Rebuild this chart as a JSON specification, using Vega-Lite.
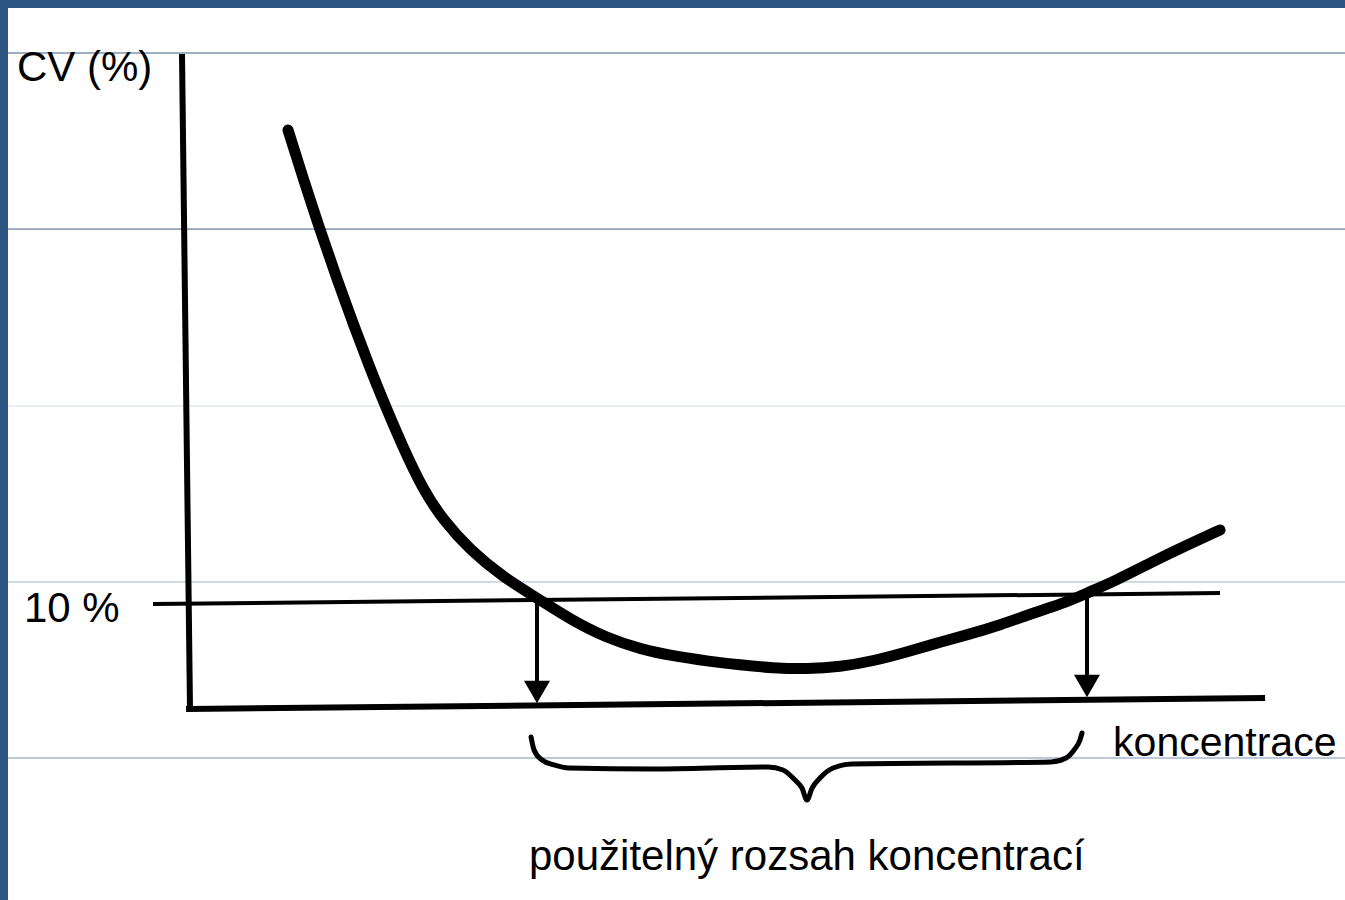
{
  "$schema": "https://vega.github.io/schema/vega-lite/v6.json",
  "width": 1337,
  "height": 892,
  "autosize": {"type": "none"},
  "padding": {"left": 8, "top": 8, "right": 0, "bottom": 0},
  "background": "#2C5581",
  "config": {"view": {"stroke": null, "fill": "#ffffff"}},
  "datasets": {
    "grid": [
      {"v": 63.61, "tone": "dark"},
      {"v": 46.44, "tone": "dark"},
      {"v": 29.18, "tone": "pale"},
      {"v": 12.02, "tone": "light"},
      {"v": -5.15, "tone": "mid"}
    ],
    "curve": [
      {"c": 9.97, "v": 56.10}, {"c": 11.36, "v": 51.42}, {"c": 12.94, "v": 46.35},
      {"c": 14.51, "v": 41.57}, {"c": 16.00, "v": 37.23}, {"c": 17.57, "v": 32.89},
      {"c": 18.78, "v": 29.72}, {"c": 20.64, "v": 25.13}, {"c": 22.49, "v": 21.04},
      {"c": 24.35, "v": 18.06}, {"c": 26.85, "v": 15.14}, {"c": 29.91, "v": 12.50},
      {"c": 33.06, "v": 10.46}, {"c": 36.40, "v": 8.21}, {"c": 39.56, "v": 6.55},
      {"c": 42.62, "v": 5.48}, {"c": 45.68, "v": 4.80}, {"c": 48.83, "v": 4.31},
      {"c": 51.89, "v": 3.92}, {"c": 54.95, "v": 3.63}, {"c": 58.10, "v": 3.53},
      {"c": 61.17, "v": 3.73}, {"c": 64.23, "v": 4.31}, {"c": 67.38, "v": 5.19},
      {"c": 70.16, "v": 6.07}, {"c": 72.94, "v": 6.85}, {"c": 76.01, "v": 7.82},
      {"c": 79.07, "v": 8.99}, {"c": 82.22, "v": 10.07}, {"c": 84.07, "v": 10.94},
      {"c": 86.86, "v": 12.21}, {"c": 89.92, "v": 13.87}, {"c": 92.98, "v": 15.43},
      {"c": 96.41, "v": 17.09}
    ],
    "brace": [
      {"c": 32.51, "v": -3.10}, {"c": 32.79, "v": -4.37}, {"c": 33.53, "v": -5.35},
      {"c": 34.64, "v": -5.83}, {"c": 36.03, "v": -6.13}, {"c": 43.82, "v": -6.22},
      {"c": 54.49, "v": -6.03}, {"c": 55.88, "v": -6.32}, {"c": 56.99, "v": -7.30},
      {"c": 57.64, "v": -8.08}, {"c": 58.10, "v": -9.25}, {"c": 58.57, "v": -8.08},
      {"c": 59.31, "v": -7.10}, {"c": 60.52, "v": -6.13}, {"c": 62.28, "v": -5.74},
      {"c": 80.74, "v": -5.54}, {"c": 82.13, "v": -5.15}, {"c": 82.87, "v": -4.37},
      {"c": 83.42, "v": -3.39}, {"c": 83.61, "v": -2.71}
    ],
    "segments": [
      {"part": "axis", "c": 0.14, "v": 63.22, "c2": 0.88, "v2": -0.37},
      {"part": "axis", "c": 0.79, "v": -0.37, "c2": 100.31, "v2": 0.70},
      {"part": "limit", "c": -2.55, "v": 9.87, "c2": 96.41, "v2": 10.94},
      {"part": "arrow", "c": 33.06, "v": 10.26, "c2": 33.06, "v2": 2.07},
      {"part": "arrow", "c": 84.07, "v": 10.85, "c2": 84.07, "v2": 2.65}
    ],
    "heads": [
      {"c": 33.06, "v": 1.29},
      {"c": 84.07, "v": 1.87}
    ],
    "labels": [
      {"role": "ytitle", "c": -15.17, "v": 60.88, "text": "CV (%)"},
      {"role": "ytitle", "c": -14.52, "v": 8.11, "text": "10 %"},
      {"role": "xtitle", "c": 86.49, "v": -4.96, "text": "koncentrace"},
      {"role": "range", "c": 32.32, "v": -16.07, "text": "použitelný rozsah koncentrací"}
    ]
  },
  "layer": [
    {
      "data": {"name": "grid"},
      "mark": {"type": "rule", "strokeWidth": 1},
      "encoding": {
        "y": {"field": "v", "type": "quantitative", "scale": {"domain": [-19, 68], "nice": false, "zero": false}, "axis": null},
        "color": {"field": "tone", "type": "nominal", "scale": {"domain": ["dark", "pale", "light", "mid"], "range": ["#3F5E85", "#CEDBE8", "#A0B6CE", "#7893B5"]}, "legend": null}
      }
    },
    {
      "data": {"name": "segments"},
      "transform": [{"filter": "datum.part === 'axis'"}],
      "mark": {"type": "rule", "strokeWidth": 6, "color": "#000000", "strokeCap": "square"},
      "encoding": {
        "x": {"field": "c", "type": "quantitative", "scale": {"domain": [-16, 108], "nice": false, "zero": false}, "axis": null},
        "y": {"field": "v", "type": "quantitative", "scale": {"domain": [-19, 68], "nice": false, "zero": false}, "axis": null},
        "x2": {"field": "c2"},
        "y2": {"field": "v2"}
      }
    },
    {
      "data": {"name": "segments"},
      "transform": [{"filter": "datum.part === 'limit'"}],
      "mark": {"type": "rule", "strokeWidth": 4, "color": "#000000"},
      "encoding": {
        "x": {"field": "c", "type": "quantitative", "scale": {"domain": [-16, 108], "nice": false, "zero": false}, "axis": null},
        "y": {"field": "v", "type": "quantitative", "scale": {"domain": [-19, 68], "nice": false, "zero": false}, "axis": null},
        "x2": {"field": "c2"},
        "y2": {"field": "v2"}
      }
    },
    {
      "data": {"name": "segments"},
      "transform": [{"filter": "datum.part === 'arrow'"}],
      "mark": {"type": "rule", "strokeWidth": 4, "color": "#000000"},
      "encoding": {
        "x": {"field": "c", "type": "quantitative", "scale": {"domain": [-16, 108], "nice": false, "zero": false}, "axis": null},
        "y": {"field": "v", "type": "quantitative", "scale": {"domain": [-19, 68], "nice": false, "zero": false}, "axis": null},
        "x2": {"field": "c2"},
        "y2": {"field": "v2"}
      }
    },
    {
      "data": {"name": "heads"},
      "mark": {"type": "point", "shape": "triangle-down", "filled": true, "size": 676, "color": "#000000", "opacity": 1, "strokeWidth": 0},
      "encoding": {
        "x": {"field": "c", "type": "quantitative", "scale": {"domain": [-16, 108], "nice": false, "zero": false}, "axis": null},
        "y": {"field": "v", "type": "quantitative", "scale": {"domain": [-19, 68], "nice": false, "zero": false}, "axis": null}
      }
    },
    {
      "data": {"name": "curve"},
      "mark": {"type": "line", "strokeWidth": 11, "color": "#000000", "strokeCap": "round", "strokeJoin": "round", "interpolate": "basis"},
      "encoding": {
        "x": {"field": "c", "type": "quantitative", "scale": {"domain": [-16, 108], "nice": false, "zero": false}, "axis": null},
        "y": {"field": "v", "type": "quantitative", "scale": {"domain": [-19, 68], "nice": false, "zero": false}, "axis": null}
      }
    },
    {
      "data": {"name": "brace"},
      "mark": {"type": "line", "strokeWidth": 5, "color": "#000000", "strokeCap": "round", "strokeJoin": "round", "interpolate": "monotone"},
      "encoding": {
        "x": {"field": "c", "type": "quantitative", "scale": {"domain": [-16, 108], "nice": false, "zero": false}, "axis": null},
        "y": {"field": "v", "type": "quantitative", "scale": {"domain": [-19, 68], "nice": false, "zero": false}, "axis": null}
      }
    },
    {
      "data": {"name": "labels"},
      "transform": [{"filter": "datum.role === 'ytitle'"}],
      "mark": {"type": "text", "font": "Liberation Sans", "fontSize": 42, "align": "left", "baseline": "alphabetic", "color": "#000000"},
      "encoding": {
        "x": {"field": "c", "type": "quantitative", "scale": {"domain": [-16, 108], "nice": false, "zero": false}, "axis": null},
        "y": {"field": "v", "type": "quantitative", "scale": {"domain": [-19, 68], "nice": false, "zero": false}, "axis": null},
        "text": {"field": "text"}
      }
    },
    {
      "data": {"name": "labels"},
      "transform": [{"filter": "datum.role === 'xtitle'"}],
      "mark": {"type": "text", "font": "Liberation Sans", "fontSize": 41, "align": "left", "baseline": "alphabetic", "color": "#000000"},
      "encoding": {
        "x": {"field": "c", "type": "quantitative", "scale": {"domain": [-16, 108], "nice": false, "zero": false}, "axis": null},
        "y": {"field": "v", "type": "quantitative", "scale": {"domain": [-19, 68], "nice": false, "zero": false}, "axis": null},
        "text": {"field": "text"}
      }
    },
    {
      "data": {"name": "labels"},
      "transform": [{"filter": "datum.role === 'range'"}],
      "mark": {"type": "text", "font": "Liberation Sans", "fontSize": 42, "align": "left", "baseline": "alphabetic", "color": "#000000"},
      "encoding": {
        "x": {"field": "c", "type": "quantitative", "scale": {"domain": [-16, 108], "nice": false, "zero": false}, "axis": null},
        "y": {"field": "v", "type": "quantitative", "scale": {"domain": [-19, 68], "nice": false, "zero": false}, "axis": null},
        "text": {"field": "text"}
      }
    }
  ]
}
